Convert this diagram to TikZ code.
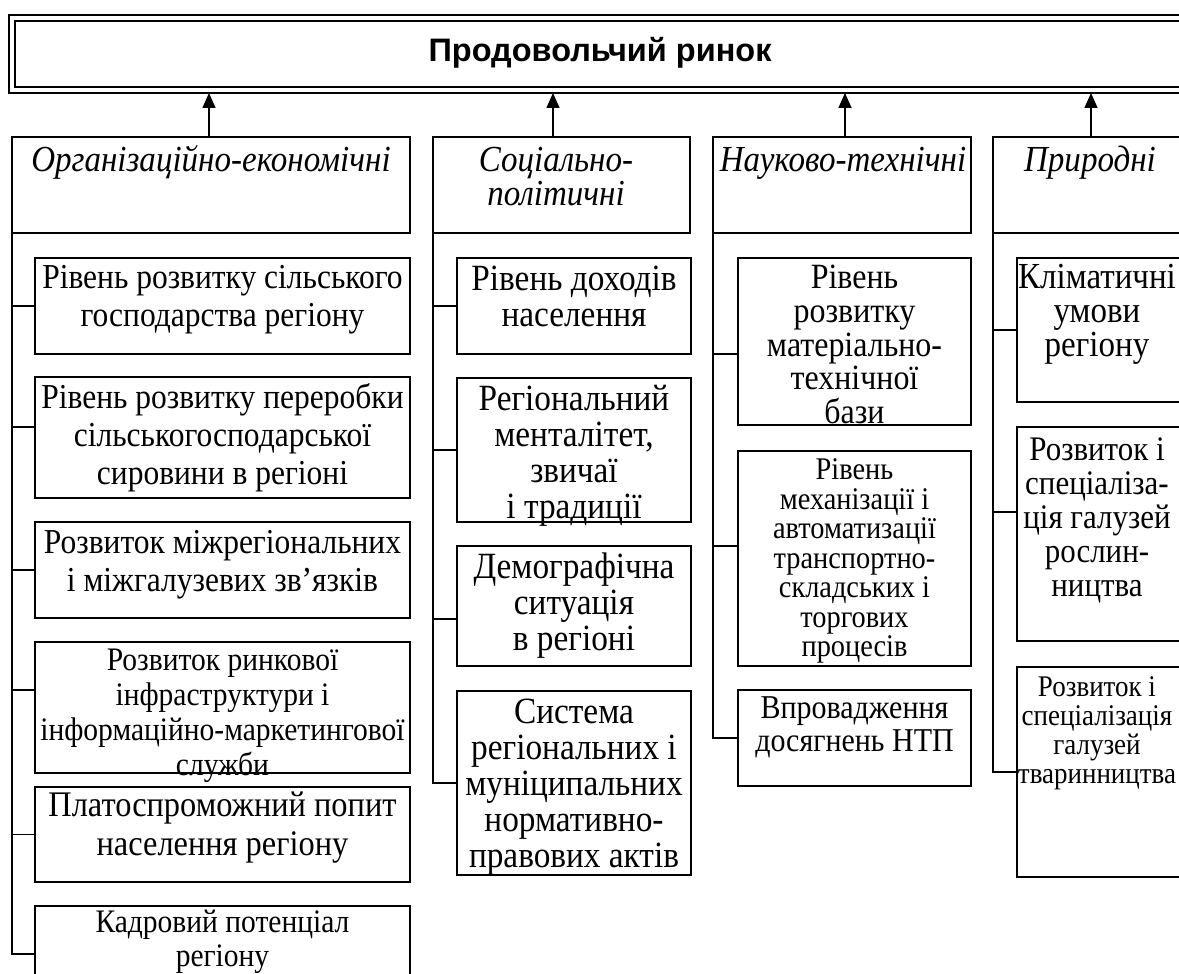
\documentclass[tikz,border=0pt]{standalone}
\usepackage{fontspec}
\setmainfont{Liberation Serif}[FakeStretch=0.9]
\newfontfamily\titlefont{Liberation Sans}
\usetikzlibrary{arrows.meta}
\newcommand\mkbox[5]{\node[box, minimum width=#4pt, minimum height=#5pt] (#1) at (#2,#3) {};}
\newcommand\fs[2]{\fontsize{#1}{#2}\selectfont\lineskiplimit=-100pt\lineskip=0pt\relax}
\newcommand\st{\rule{0pt}{30pt}}
\begin{document}
\begin{tikzpicture}[x=1pt,y=-1pt,
  box/.style={draw, line width=1.6pt, inner sep=0pt, outer sep=0pt, anchor=north west},
  dbl/.style={draw, line width=2pt, inner sep=0pt, outer sep=0pt, anchor=north west},
  txt/.style={anchor=north, inner sep=0pt, align=center},
  link/.style={line width=1.6pt},
  up/.style={line width=1.6pt, -{Triangle[length=15pt,width=13pt]}}]
\useasboundingbox (0,0) rectangle (1179,974);
\clip (0,0) rectangle (1179,974);
% banner
\node[dbl, minimum width=1200pt, minimum height=78pt] (B) at (9,15) {};
\node[dbl, minimum width=1200pt, minimum height=66pt] (Bi) at (15,21) {};
\node[inner sep=0pt, font=\titlefont\bfseries\fs{32.5}{38}] (T) at (600,53) {Продовольчий ринок};
% headers
\mkbox{H1}{12}{137}{398}{96}
\mkbox{H2}{433}{137}{257}{96}
\mkbox{H3}{713}{137}{258}{96}
\mkbox{H4}{993}{137}{220}{96}
\node[txt, font=\itshape\fs{36.7}{34}] (tH1) at (211,141.4) {\st Організаційно-економічні};
\node[txt, font=\itshape\fs{36.7}{34}] (tH2) at (556,141.4) {\st Соціально-\\політичні};
\node[txt, font=\itshape\fs{36.7}{34}] (tH3) at (843,141.4) {\st Науково-технічні};
\node[txt, font=\itshape\fs{36.7}{34}] (tH4) at (1090,141.4) {\st Природні};
% arrows
\draw[up] ([xshift=-2pt]H1.north) -- ([xshift=-2pt]H1.north |- B.south);
\draw[up] ([xshift=-8.5pt]H2.north) -- ([xshift=-8.5pt]H2.north |- B.south);
\draw[up] ([xshift=3pt]H3.north) -- ([xshift=3pt]H3.north |- B.south);
\draw[up] ([xshift=-12pt]H4.north) -- ([xshift=-12pt]H4.north |- B.south);
% column A
\mkbox{A1}{35}{258}{375}{96}
\mkbox{A2}{35}{377}{375}{121}
\mkbox{A3}{35}{522}{375}{96}
\mkbox{A4}{35}{642}{375}{131}
\mkbox{A5}{35}{787}{375}{95}
\mkbox{A6}{35}{906}{375}{96}
\node[txt, font=\fs{35}{38}] (tA1) at (222.5,258) {\st Рівень розвитку сільського\\господарства регіону};
\node[txt, font=\fs{35}{38}] (tA2) at (222.5,378) {\st Рівень розвитку переробки\\сільськогосподарської\\сировини в регіоні};
\node[txt, font=\fs{35}{38}] (tA3) at (222.5,523) {\st Розвиток міжрегіональних\\і міжгалузевих зв’язків};
\node[txt, font=\fs{32.8}{35}] (tA4) at (222.5,640.5) {\st Розвиток ринкової\\інфраструктури і\\інформаційно-маркетингової\\служби};
\node[txt, font=\fs{36}{39}] (tA5) at (222.5,786.3) {\st Платоспроможний попит\\населення регіону};
\node[txt, font=\fs{32.8}{34}] (tA6) at (222.5,902.5) {\st Кадровий потенціал\\регіону};
\draw[link] (H1.south west) |- (A1.west);
\draw[link] (H1.south west) |- ([yshift=10.5pt]A2.west);
\draw[link] (H1.south west) |- (A3.west);
\draw[link] (H1.south west) |- ([yshift=17.5pt]A4.west);
\draw[link] (H1.south west) |- (A5.west);
\draw[link] (H1.south west) |- (A6.west);
% column B
\mkbox{B1}{457}{258}{234}{96}
\mkbox{B2}{457}{378}{234}{144}
\mkbox{B3}{457}{546}{234}{120}
\mkbox{B4}{457}{691}{234}{184}
\node[txt, font=\fs{37}{36}] (tB1) at (574,260.7) {\st Рівень доходів\\населення};
\node[txt, font=\fs{37}{36}] (tB2) at (574,380.7) {\st Регіональний\\менталітет,\\звичаї\\і традиції};
\node[txt, font=\fs{37}{36}] (tB3) at (574,548.7) {\st Демографічна\\ситуація\\в регіоні};
\node[txt, font=\fs{37}{36}] (tB4) at (574,693.7) {\st Система\\регіональних і\\муніципальних\\нормативно-\\правових актів};
\draw[link] (H2.south west) |- (B1.west);
\draw[link] (H2.south west) |- (B2.west);
\draw[link] (H2.south west) |- ([yshift=-13pt]B3.west);
\draw[link] (H2.south west) |- (B4.west);
% column C
\mkbox{C1}{738}{258}{233}{167}
\mkbox{C2}{738}{451}{233}{215}
\mkbox{C3}{738}{690}{233}{96}
\node[txt, font=\fs{35.5}{33.8}] (tC1) at (854.5,258.2) {\st Рівень\\розвитку\\матеріально-\\технічної\\бази};
\node[txt, font=\fs{31.5}{29.5}] (tC2) at (854.5,449.3) {\st Рівень\\механізації і\\автоматизації\\транспортно-\\складських і\\торгових\\процесів};
\node[txt, font=\fs{33.3}{33}] (tC3) at (854.5,688.7) {\st Впровадження\\досягнень НТП};
\draw[link] (H3.south west) |- ([yshift=-12.5pt]C1.west);
\draw[link] (H3.south west) |- ([yshift=12.5pt]C2.west);
\draw[link] (H3.south west) |- (C3.west);
% column D
\mkbox{D1}{1017}{258}{200}{144}
\mkbox{D2}{1017}{427}{200}{214}
\mkbox{D3}{1017}{667}{200}{210}
\node[txt, font=\fs{36.7}{34}] (tD1) at (1097,258.4) {\st Кліматичні\\умови\\регіону};
\node[txt, font=\fs{34.4}{34}] (tD2) at (1097,429.9) {\st Розвиток і\\спеціаліза-\\ція галузей\\рослин-\\ництва};
\node[txt, font=\fs{30}{29}] (tD3) at (1097,665.9) {\st Розвиток і\\спеціалізація\\галузей\\тваринництва};
\draw[link] (H4.south west) |- (D1.west);
\draw[link] (H4.south west) |- ([yshift=22pt]D2.west);
\draw[link] (H4.south west) |- (D3.west);
\end{tikzpicture}
\end{document}
